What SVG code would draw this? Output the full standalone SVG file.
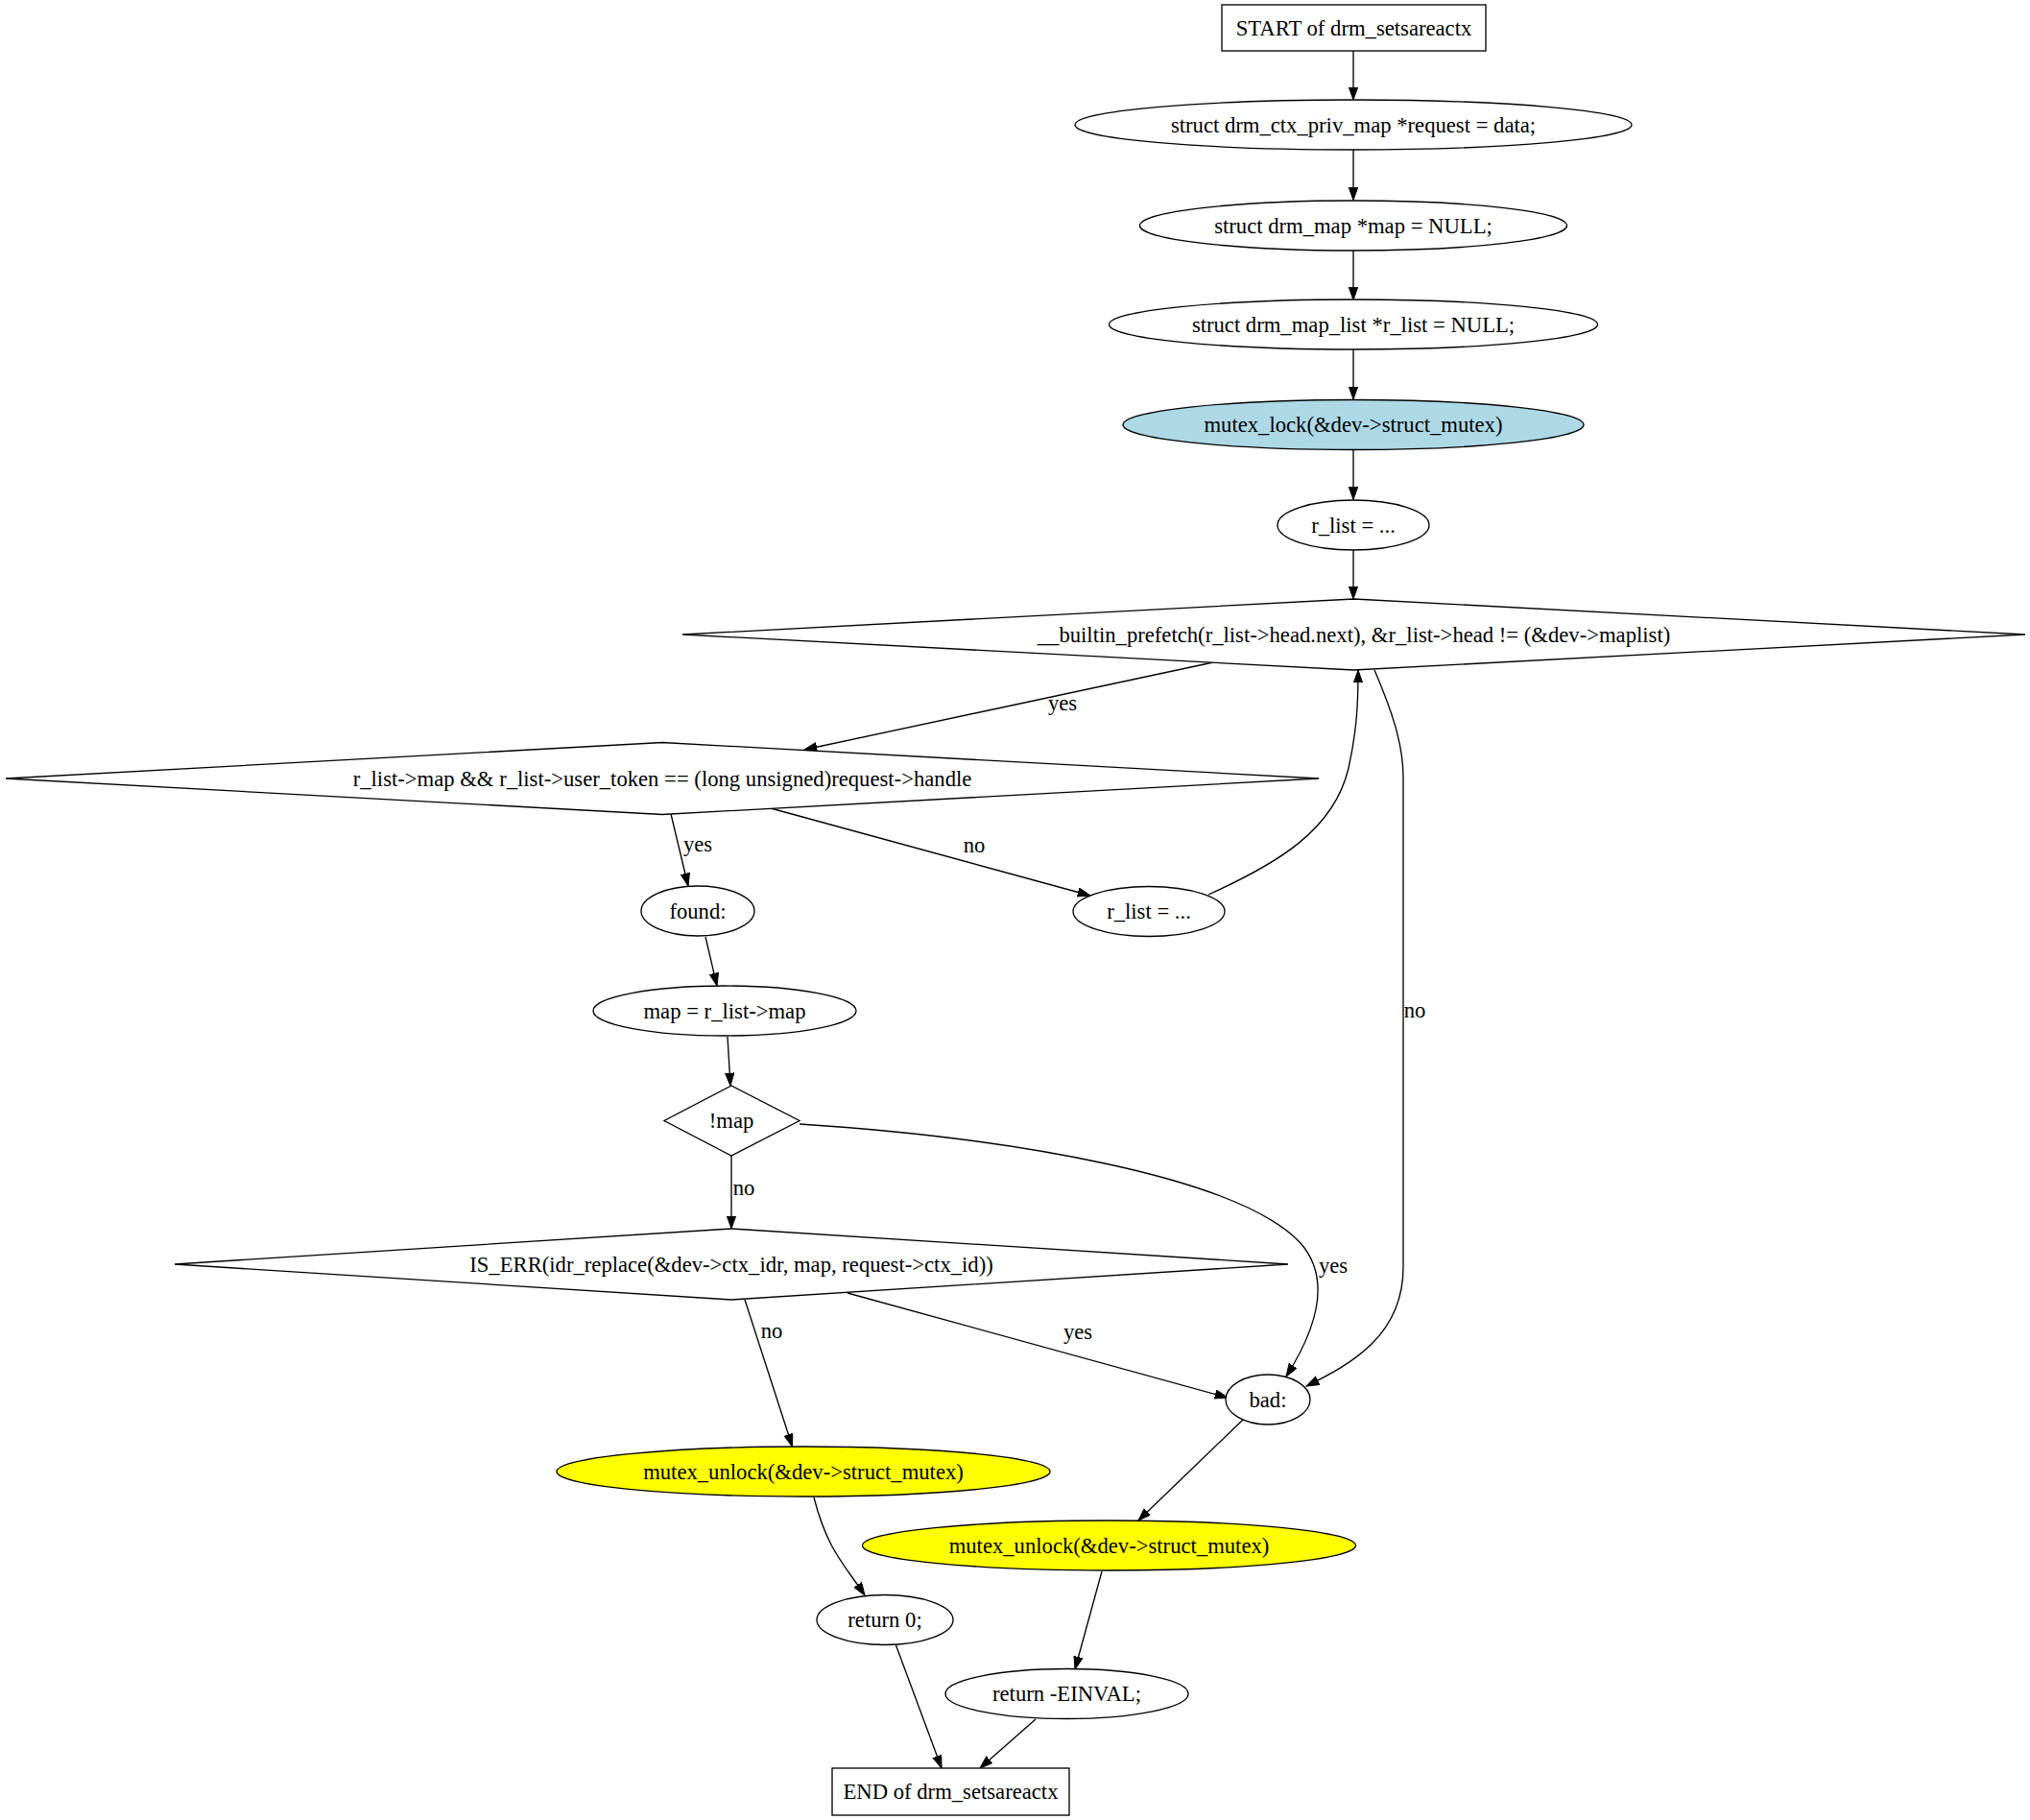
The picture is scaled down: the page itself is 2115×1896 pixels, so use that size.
<svg xmlns="http://www.w3.org/2000/svg" width="2115" height="1896" viewBox="0 0 2115 1896">
<style>
.n{fill:#ffffff;stroke:#000000;stroke-width:1.33}
.blue{fill:#add8e6}
.yellow{fill:#ffff00}
.t{font-family:"Liberation Serif","Times New Roman",serif;font-size:22.67px;fill:#000000;text-anchor:middle}
.e{fill:none;stroke:#000000;stroke-width:1.33;marker-end:url(#arr)}
</style>
<defs>
<marker id="arr" markerUnits="userSpaceOnUse" markerWidth="16" markerHeight="12" refX="13.3" refY="4.7" orient="auto">
<path d="M0,0 L13.3,4.7 L0,9.4 Z" fill="#000000" stroke="#000000" stroke-width="1"/>
</marker>
</defs>
<rect width="2115" height="1896" fill="#ffffff"/>
<g id="edges">
<path class="e" d="M1410,53 L1410,104"/>
<path class="e" d="M1410,156 L1410,208.5"/>
<path class="e" d="M1410,261 L1410,312.5"/>
<path class="e" d="M1410,364 L1410,416"/>
<path class="e" d="M1410,469 L1410,520.5"/>
<path class="e" d="M1410,573 L1410,624"/>
<path class="e" d="M1264,690 L838,781"/>
<text class="t" x="1107" y="740">yes</text>
<path class="e" d="M699,848 L717,923"/>
<text class="t" x="727" y="887">yes</text>
<path class="e" d="M803,842 L1136,933"/>
<text class="t" x="1015" y="888">no</text>
<path class="e" d="M1259,932 C1330,900 1390,865 1405,800 C1414,760 1415,730 1415,698"/>
<path class="e" d="M1432,698 C1450,740 1462,775 1462,810 L1462,1320 C1462,1390 1410,1420 1361,1444"/>
<text class="t" x="1474" y="1060">no</text>
<path class="e" d="M735,976 L747,1027"/>
<path class="e" d="M758,1080 L761,1131"/>
<path class="e" d="M762,1204 L762,1280"/>
<text class="t" x="775" y="1245">no</text>
<path class="e" d="M833,1171 C1050,1185 1290,1225 1355,1295 C1390,1335 1368,1390 1340,1434"/>
<text class="t" x="1389" y="1326">yes</text>
<path class="e" d="M776,1354 L825.5,1507"/>
<text class="t" x="804" y="1394">no</text>
<path class="e" d="M883,1347 L1279,1456"/>
<text class="t" x="1123" y="1395">yes</text>
<path class="e" d="M1295,1479 L1186,1584"/>
<path class="e" d="M848,1560 C862,1615 880,1630 901,1662"/>
<path class="e" d="M1148,1637 L1120,1739"/>
<path class="e" d="M933.5,1714 L981,1842"/>
<path class="e" d="M1079,1791 L1021,1842"/>
</g>
<g id="start">
<rect class="n" x="1273" y="5" width="275" height="48"/>
<text class="t" x="1410.5" y="36.5">START of drm_setsareactx</text>
</g>
<g id="n_request">
<ellipse class="n" cx="1410" cy="130" rx="290" ry="26"/>
<text class="t" x="1410" y="137.5">struct drm_ctx_priv_map *request = data;</text>
</g>
<g id="n_map">
<ellipse class="n" cx="1410" cy="235" rx="222.5" ry="26"/>
<text class="t" x="1410" y="242.5">struct drm_map *map = NULL;</text>
</g>
<g id="n_rlist_decl">
<ellipse class="n" cx="1410" cy="338" rx="254.5" ry="26"/>
<text class="t" x="1410" y="345.5">struct drm_map_list *r_list = NULL;</text>
</g>
<g id="n_mutex_lock">
<ellipse class="n blue" cx="1410" cy="442.5" rx="240" ry="26"/>
<text class="t" x="1410" y="450">mutex_lock(&amp;dev-&gt;struct_mutex)</text>
</g>
<g id="n_rlist1">
<ellipse class="n" cx="1410" cy="547" rx="79" ry="26"/>
<text class="t" x="1410" y="554.5">r_list = ...</text>
</g>
<g id="d_loop">
<polygon class="n" points="1410.5,624 2110,661 1410.5,698 711,661"/>
<text class="t" x="1410.5" y="668.5">__builtin_prefetch(r_list-&gt;head.next), &amp;r_list-&gt;head != (&amp;dev-&gt;maplist)</text>
</g>
<g id="d_match">
<polygon class="n" points="690,773.5 1374,811 690,848.5 6,811"/>
<text class="t" x="690" y="818.5">r_list-&gt;map &amp;&amp; r_list-&gt;user_token == (long unsigned)request-&gt;handle</text>
</g>
<g id="n_found">
<ellipse class="n" cx="727" cy="949" rx="59" ry="26"/>
<text class="t" x="727" y="956.5">found:</text>
</g>
<g id="n_rlist2">
<ellipse class="n" cx="1197" cy="949.5" rx="79" ry="26"/>
<text class="t" x="1197" y="957">r_list = ...</text>
</g>
<g id="n_map_assign">
<ellipse class="n" cx="755" cy="1053" rx="137" ry="26"/>
<text class="t" x="755" y="1060.5">map = r_list-&gt;map</text>
</g>
<g id="d_notmap">
<polygon class="n" points="762,1131 833,1167.5 762,1204 692,1167.5"/>
<text class="t" x="762" y="1175">!map</text>
</g>
<g id="d_iserr">
<polygon class="n" points="762,1280 1342,1317 762,1354 182,1317"/>
<text class="t" x="762" y="1324.5">IS_ERR(idr_replace(&amp;dev-&gt;ctx_idr, map, request-&gt;ctx_id))</text>
</g>
<g id="n_bad">
<ellipse class="n" cx="1321" cy="1458" rx="44" ry="26"/>
<text class="t" x="1321" y="1465.5">bad:</text>
</g>
<g id="n_unlock1">
<ellipse class="n yellow" cx="837" cy="1533" rx="257" ry="26"/>
<text class="t" x="837" y="1540.5">mutex_unlock(&amp;dev-&gt;struct_mutex)</text>
</g>
<g id="n_unlock2">
<ellipse class="n yellow" cx="1155.5" cy="1610" rx="257" ry="26"/>
<text class="t" x="1155.5" y="1617.5">mutex_unlock(&amp;dev-&gt;struct_mutex)</text>
</g>
<g id="n_return0">
<ellipse class="n" cx="922" cy="1687.5" rx="71" ry="26"/>
<text class="t" x="922" y="1695">return 0;</text>
</g>
<g id="n_return_einval">
<ellipse class="n" cx="1111.5" cy="1764.5" rx="126.5" ry="26"/>
<text class="t" x="1111.5" y="1772">return -EINVAL;</text>
</g>
<g id="end">
<rect class="n" x="867" y="1842" width="247" height="49"/>
<text class="t" x="990.5" y="1874">END of drm_setsareactx</text>
</g>
</svg>
